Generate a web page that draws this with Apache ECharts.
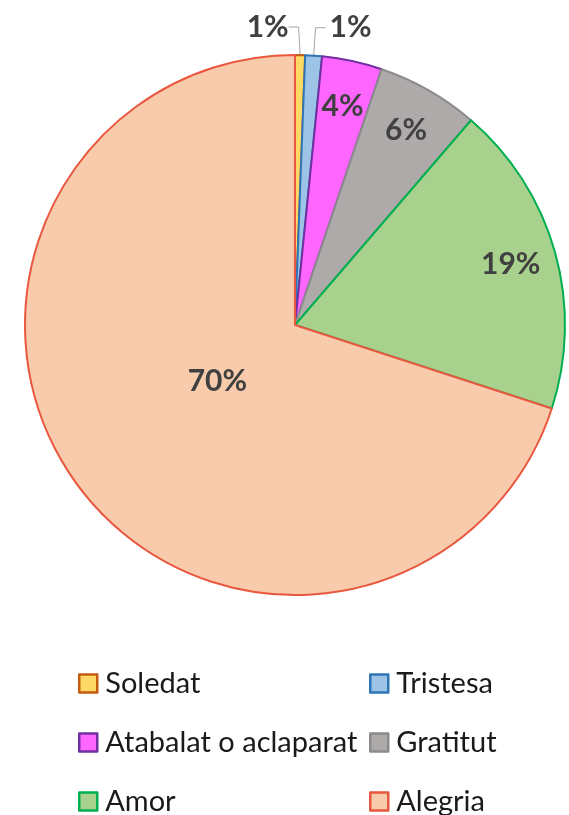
<!DOCTYPE html>
<html>
<head>
<meta charset="utf-8">
<script src="https://cdn.jsdelivr.net/npm/echarts@6/dist/echarts.min.js"></script>
<style>
  html, body { margin: 0; padding: 0; background: #fff; }
  #chart { width: 569px; height: 815px; }
</style>
</head>
<body>
<div id="chart"></div>
<script>
var categories = ['Soledat', 'Tristesa', 'Atabalat o aclaparat', 'Gratitut', 'Amor', 'Alegria'];
var values = [0.6, 1.0, 3.6, 6.1, 18.7, 70.0];
var fills = ['#FFD966', '#9DC3E6', '#FF66FF', '#AEAAAA', '#A9D18E', '#F8CBAD'];
var borders = ['#C55A11', '#2E75B6', '#7030A0', '#8C8C8C', '#00B050', '#E9573F'];
// which labels go where (Excel best fit)
var outsideLabels = ['Soledat', 'Tristesa'];
var ringLabels = ['Atabalat o aclaparat', 'Gratitut', 'Amor'];
var coreLabels = ['Alegria'];

var chart = echarts.init(document.getElementById('chart'));

var labelStyle = {
  fontFamily: 'Lato',
  fontWeight: 'bold',
  fontSize: 30,
  color: '#404040'
};
function pct(p) { return Math.round(p.percent) + '%'; }

function buildData(showList, visible) {
  return categories.map(function (name, i) {
    return {
      name: name,
      value: values[i],
      itemStyle: visible
        ? { color: fills[i], borderColor: borders[i], borderWidth: 2 }
        : { color: 'rgba(0,0,0,0)', borderWidth: 0 },
      label: { show: showList.indexOf(name) >= 0 }
    };
  });
}

var center = [295, 325];
var legendText = { fontFamily: 'Lato', fontSize: 29, color: '#1a1a1a', padding: [0, 0, 0, 3] };

function makeLegend(left, names) {
  return {
    orient: 'vertical',
    left: left, top: 669,
    height: 220,
    padding: 0,
    itemWidth: 18, itemHeight: 18, itemGap: 30,
    icon: 'rect',
    selectedMode: false,
    itemStyle: { borderWidth: 2.5 },
    textStyle: legendText,
    data: names
  };
}

var option = {
  backgroundColor: '#fff',
  animation: false,
  legend: [
    makeLegend(78, [categories[0], categories[2], categories[4]]),
    makeLegend(369, [categories[1], categories[3], categories[5]])
  ],
  series: [
    {
      type: 'pie',
      center: center,
      radius: 270,
      startAngle: 90,
      clockwise: true,
      silent: true,
      avoidLabelOverlap: false,
      label: Object.assign({ position: 'outside', formatter: pct, distanceToLabelLine: 4 }, labelStyle),
      labelLine: { show: true, length: 28, length2: 10, lineStyle: { color: '#A6A6A6', width: 1 } },
      labelLayout: function (params) {
        if (params.dataIndex === 0) {
          return { x: params.labelRect.x - 26, align: 'right' };
        }
      },
      data: buildData(outsideLabels, true)
    },
    {
      type: 'pie',
      center: center,
      radius: [172, 270],
      startAngle: 90,
      silent: true,
      legendHoverLink: false,
      label: Object.assign({ position: 'inside', formatter: pct }, labelStyle),
      labelLine: { show: false },
      data: buildData(ringLabels, false)
    },
    {
      type: 'pie',
      center: center,
      radius: [0, 186],
      startAngle: 90,
      silent: true,
      legendHoverLink: false,
      label: Object.assign({ position: 'inside', formatter: pct }, labelStyle),
      labelLine: { show: false },
      data: buildData(coreLabels, false)
    }
  ]
};
chart.setOption(option);
</script>
</body>
</html>
